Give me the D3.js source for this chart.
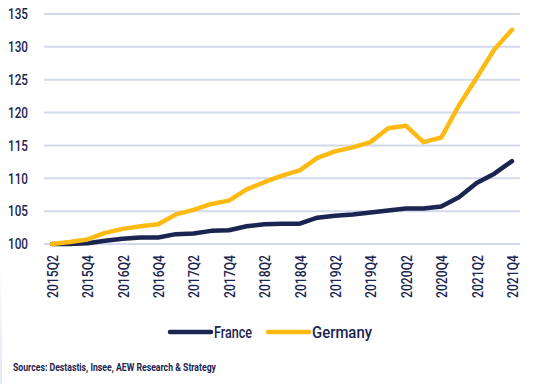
<!DOCTYPE html>
<html><head><meta charset="utf-8">
<script src="https://cdn.jsdelivr.net/npm/d3@7"></script>
<style>
body{margin:0;background:#fff;}
svg{display:block;}
text{font-family:Roboto,"DejaVu Sans",sans-serif;fill:#1b2551;}
</style></head>
<body><svg id="c" width="537" height="384"></svg>
<script>
const quarters = ["2015Q2","2015Q3","2015Q4","2016Q1","2016Q2","2016Q3","2016Q4","2017Q1","2017Q2","2017Q3","2017Q4","2018Q1","2018Q2","2018Q3","2018Q4","2019Q1","2019Q2","2019Q3","2019Q4","2020Q1","2020Q2","2020Q3","2020Q4","2021Q1","2021Q2","2021Q3","2021Q4"];
const france = [100.0,100.0,100.1,100.5,100.8,101.0,101.0,101.5,101.6,102.0,102.1,102.7,103.0,103.1,103.1,104.0,104.3,104.5,104.8,105.1,105.4,105.4,105.7,107.1,109.3,110.7,112.6];
const germany = [100.0,100.3,100.7,101.7,102.3,102.7,103.0,104.5,105.2,106.1,106.6,108.3,109.4,110.4,111.2,113.1,114.1,114.7,115.5,117.6,118.0,115.5,116.2,121.1,125.3,129.6,132.6];
const yTicks = [100,105,110,115,120,125,130,135];
const xTickLabels = quarters.filter((q,i)=>i%2===0);
const seriesNames = ["France","Germany"];
const colors = ["#1b2551","#fdba12"];
const source = "Sources: Destastis, Insee, AEW Research & Strategy";

const svg = d3.select("#c");
const grad = svg.append("defs").append("linearGradient").attr("id","lg").attr("x1",0).attr("x2",0).attr("y1",0).attr("y2",1);
grad.append("stop").attr("offset","0").attr("stop-color","#e3eaf6").attr("stop-opacity",0);
grad.append("stop").attr("offset","1").attr("stop-color","#dfe7f5").attr("stop-opacity",1);
svg.append("rect").attr("x",0).attr("y",260).attr("width",2).attr("height",124).attr("fill","url(#lg)");

const x = d3.scalePoint().domain(quarters).range([52,512]);
const y = d3.scaleLinear().domain([100,135]).range([244,14]);

svg.append("g").selectAll("line").data(yTicks).join("line")
  .attr("x1",44).attr("x2",520).attr("y1",d=>y(d)).attr("y2",d=>y(d))
  .attr("stroke","#d3d9ec").attr("stroke-width",2);

const ya = svg.append("g").attr("transform","translate(28,0)")
  .call(d3.axisLeft(y).tickValues(yTicks).tickSize(0).tickPadding(0));
ya.select(".domain").remove();
ya.selectAll("text").attr("font-size",15).attr("font-weight",500).attr("fill","#1b2551")
  .attr("font-family","Roboto,sans-serif")
  .attr("textLength",20).attr("lengthAdjust","spacingAndGlyphs");

const xa = svg.append("g").attr("transform","translate(0,255)")
  .call(d3.axisBottom(x).tickValues(xTickLabels).tickSize(0).tickPadding(0));
xa.select(".domain").remove();
xa.selectAll("text").attr("font-size",15).attr("font-weight",500).attr("fill","#1b2551")
  .attr("font-family","Roboto,sans-serif")
  .attr("transform","rotate(-90)").attr("text-anchor","end")
  .attr("x",0).attr("y",0).attr("dy","0.36em")
  .attr("textLength",43).attr("lengthAdjust","spacingAndGlyphs");

const line = d3.line().x((d,i)=>x(quarters[i])).y(d=>y(d));
[france,germany].forEach((s,k)=>{
  svg.append("path").datum(s).attr("d",line).attr("fill","none")
    .attr("stroke",colors[k]).attr("stroke-width",4.5)
    .attr("stroke-linejoin","round").attr("stroke-linecap","round");
});

const leg = [{x:170,w:38},{x:268,w:60}];
seriesNames.forEach((n,k)=>{
  const lx = leg[k].x;
  svg.append("line").attr("x1",lx).attr("x2",lx+41).attr("y1",332).attr("y2",332)
    .attr("stroke",colors[k]).attr("stroke-width",4.5).attr("stroke-linecap","round");
  svg.append("text").attr("x",lx+44).attr("y",332).attr("dy","0.36em")
    .attr("font-size",16).attr("font-weight",500).text(n)
    .attr("textLength",leg[k].w).attr("lengthAdjust","spacingAndGlyphs");
});

svg.append("text").attr("x",13).attr("y",367).attr("dy","0.35em")
  .attr("font-size",11).attr("font-weight",700).text(source)
  .attr("textLength",203).attr("lengthAdjust","spacingAndGlyphs");
</script></body></html>
